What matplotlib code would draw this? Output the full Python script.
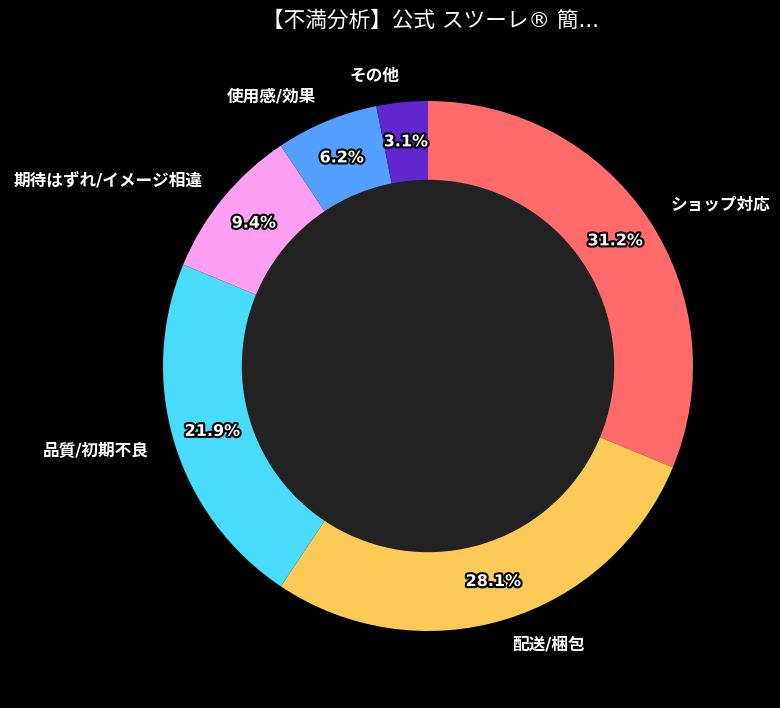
import matplotlib
matplotlib.use("Agg")
import matplotlib.pyplot as plt
import matplotlib.patheffects as pe

plt.rcParams['font.family'] = ['DejaVu Sans', 'Noto Sans CJK JP']

# data
labels = ['ショップ対応', '配送/梱包', '品質/初期不良', '期待はずれ/イメージ相違', '使用感/効果', 'その他']
counts = [10, 9, 7, 3, 2, 1]
colors = ['#FF6B6B', '#FECA57', '#48DBFB', '#FF9FF3', '#54A0FF', '#5F27CD']
title = '【不満分析】公式 スツーレ® 簡...'

fig = plt.figure(figsize=(7.8, 7.08), dpi=100)
fig.patch.set_facecolor('black')

# axes placed so the pie centre sits at (428, 366) px, radius 265 px
r_px = 265
lim = 1.3
size = 2 * lim * r_px
cx, cy = 428, 708 - 366
ax = fig.add_axes([(cx - size / 2) / 780, (cy - size / 2) / 708, size / 780, size / 708])
ax.set_facecolor('black')

wedges, texts, autotexts = ax.pie(
    counts, labels=labels, colors=colors, startangle=90, counterclock=False,
    autopct='%1.1f%%', pctdistance=0.85, labeldistance=1.1,
    textprops={'color': 'white', 'fontsize': 12, 'fontweight': 'bold'},
)
for t in autotexts:
    t.set_fontsize(11.5)
    t.set_path_effects([pe.withStroke(linewidth=3, foreground='black')])

ax.add_artist(plt.Circle((0, 0), 0.7, color='#222222'))
ax.set_xlim(-lim, lim)
ax.set_ylim(-lim, lim)
ax.set_aspect('equal')
ax.axis('off')

fig.text(431 / 780, 1 - 21 / 708, title, color='white', fontsize=15.6,
         ha='center', va='center')

fig.savefig('out.png', dpi=100, facecolor='black')
